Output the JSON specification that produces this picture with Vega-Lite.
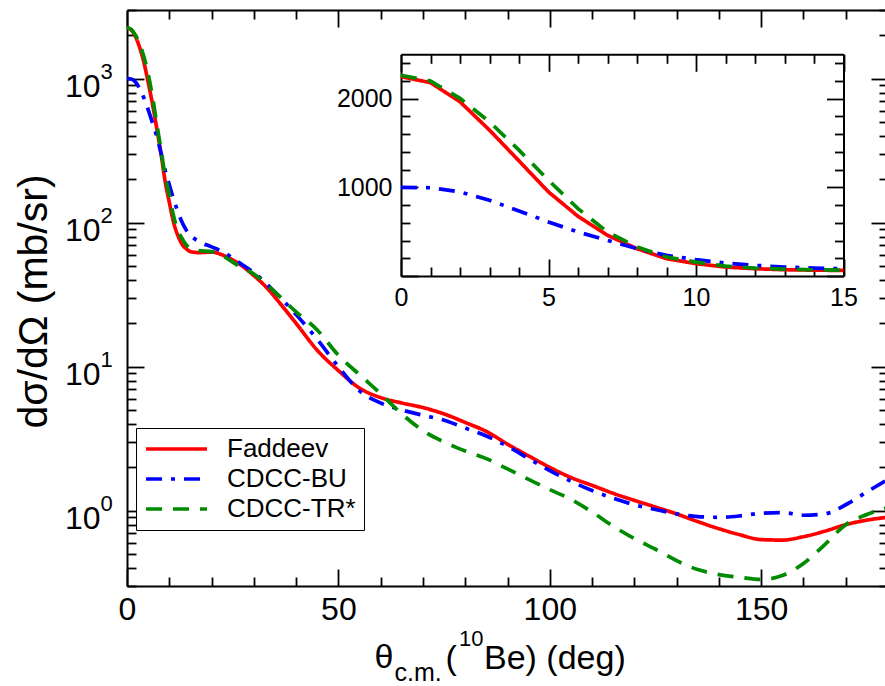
{
  "$schema": "https://vega.github.io/schema/vega-lite/v6.json",
  "width": 758,
  "height": 576,
  "autosize": "none",
  "padding": {"left": 127, "top": 10, "right": 0, "bottom": 100},
  "background": "white",
  "config": {
    "font": "Liberation Sans",
    "view": {"stroke": null},
    "axis": {
      "grid": false,
      "domainColor": "#000000",
      "domainWidth": 2,
      "tickColor": "#000000",
      "tickWidth": 1.8,
      "labelColor": "#000000",
      "titleColor": "#000000",
      "titleFontWeight": "normal",
      "labelFont": "Liberation Sans",
      "titleFont": "Liberation Sans",
      "labelOverlap": false,
      "labelFlush": false,
      "labelBound": false
    }
  },
  "data": {
    "values": [
      {"model": "Faddeev", "deg": 0, "v": 2248}, {"model": "Faddeev", "deg": 1, "v": 2180}, {"model": "Faddeev", "deg": 2, "v": 1965}, {"model": "Faddeev", "deg": 3, "v": 1645}, {"model": "Faddeev", "deg": 4, "v": 1298}, {"model": "Faddeev", "deg": 5, "v": 948}, {"model": "Faddeev", "deg": 6, "v": 673}, {"model": "Faddeev", "deg": 7, "v": 459}, {"model": "Faddeev", "deg": 8, "v": 308}, {"model": "Faddeev", "deg": 9, "v": 195}, {"model": "Faddeev", "deg": 10, "v": 139}, {"model": "Faddeev", "deg": 11, "v": 101}, {"model": "Faddeev", "deg": 12, "v": 82}, {"model": "Faddeev", "deg": 13, "v": 71}, {"model": "Faddeev", "deg": 14, "v": 66}, {"model": "Faddeev", "deg": 15, "v": 63},
      {"model": "Faddeev", "deg": 17, "v": 62}, {"model": "Faddeev", "deg": 20, "v": 62.5}, {"model": "Faddeev", "deg": 23, "v": 59}, {"model": "Faddeev", "deg": 26, "v": 53}, {"model": "Faddeev", "deg": 30, "v": 43}, {"model": "Faddeev", "deg": 33, "v": 35.5}, {"model": "Faddeev", "deg": 36, "v": 28}, {"model": "Faddeev", "deg": 40, "v": 20}, {"model": "Faddeev", "deg": 45, "v": 13}, {"model": "Faddeev", "deg": 50, "v": 9.4}, {"model": "Faddeev", "deg": 55, "v": 7.1}, {"model": "Faddeev", "deg": 60, "v": 6.1}, {"model": "Faddeev", "deg": 65, "v": 5.6}, {"model": "Faddeev", "deg": 70, "v": 5.2}, {"model": "Faddeev", "deg": 75, "v": 4.7}, {"model": "Faddeev", "deg": 80, "v": 4.1}, {"model": "Faddeev", "deg": 85, "v": 3.55}, {"model": "Faddeev", "deg": 90, "v": 2.9}, {"model": "Faddeev", "deg": 95, "v": 2.4}, {"model": "Faddeev", "deg": 100, "v": 2.0}, {"model": "Faddeev", "deg": 105, "v": 1.7}, {"model": "Faddeev", "deg": 110, "v": 1.5}, {"model": "Faddeev", "deg": 115, "v": 1.32}, {"model": "Faddeev", "deg": 120, "v": 1.18}, {"model": "Faddeev", "deg": 125, "v": 1.06}, {"model": "Faddeev", "deg": 130, "v": 0.95}, {"model": "Faddeev", "deg": 135, "v": 0.84}, {"model": "Faddeev", "deg": 140, "v": 0.75}, {"model": "Faddeev", "deg": 145, "v": 0.68}, {"model": "Faddeev", "deg": 150, "v": 0.63}, {"model": "Faddeev", "deg": 155, "v": 0.625}, {"model": "Faddeev", "deg": 160, "v": 0.66}, {"model": "Faddeev", "deg": 165, "v": 0.72}, {"model": "Faddeev", "deg": 170, "v": 0.8}, {"model": "Faddeev", "deg": 175, "v": 0.86}, {"model": "Faddeev", "deg": 180, "v": 0.9},

      {"model": "CDCC-BU", "deg": 0, "v": 1000}, {"model": "CDCC-BU", "deg": 1, "v": 995}, {"model": "CDCC-BU", "deg": 2, "v": 948}, {"model": "CDCC-BU", "deg": 3, "v": 854}, {"model": "CDCC-BU", "deg": 4, "v": 734}, {"model": "CDCC-BU", "deg": 5, "v": 609}, {"model": "CDCC-BU", "deg": 6, "v": 496}, {"model": "CDCC-BU", "deg": 7, "v": 402}, {"model": "CDCC-BU", "deg": 8, "v": 308}, {"model": "CDCC-BU", "deg": 9, "v": 233}, {"model": "CDCC-BU", "deg": 10, "v": 184}, {"model": "CDCC-BU", "deg": 11, "v": 146}, {"model": "CDCC-BU", "deg": 12, "v": 120}, {"model": "CDCC-BU", "deg": 13, "v": 101}, {"model": "CDCC-BU", "deg": 14, "v": 89}, {"model": "CDCC-BU", "deg": 15, "v": 82},
      {"model": "CDCC-BU", "deg": 17, "v": 74}, {"model": "CDCC-BU", "deg": 20, "v": 68}, {"model": "CDCC-BU", "deg": 23, "v": 62}, {"model": "CDCC-BU", "deg": 26, "v": 54}, {"model": "CDCC-BU", "deg": 30, "v": 45}, {"model": "CDCC-BU", "deg": 35, "v": 33}, {"model": "CDCC-BU", "deg": 40, "v": 23}, {"model": "CDCC-BU", "deg": 45, "v": 15.5}, {"model": "CDCC-BU", "deg": 50, "v": 10}, {"model": "CDCC-BU", "deg": 55, "v": 6.8}, {"model": "CDCC-BU", "deg": 60, "v": 5.6}, {"model": "CDCC-BU", "deg": 65, "v": 5.0}, {"model": "CDCC-BU", "deg": 70, "v": 4.6}, {"model": "CDCC-BU", "deg": 75, "v": 4.25}, {"model": "CDCC-BU", "deg": 80, "v": 3.75}, {"model": "CDCC-BU", "deg": 85, "v": 3.3}, {"model": "CDCC-BU", "deg": 90, "v": 2.8}, {"model": "CDCC-BU", "deg": 95, "v": 2.3}, {"model": "CDCC-BU", "deg": 100, "v": 1.9}, {"model": "CDCC-BU", "deg": 105, "v": 1.6}, {"model": "CDCC-BU", "deg": 110, "v": 1.38}, {"model": "CDCC-BU", "deg": 115, "v": 1.22}, {"model": "CDCC-BU", "deg": 120, "v": 1.1}, {"model": "CDCC-BU", "deg": 125, "v": 1.02}, {"model": "CDCC-BU", "deg": 130, "v": 0.95}, {"model": "CDCC-BU", "deg": 135, "v": 0.91}, {"model": "CDCC-BU", "deg": 140, "v": 0.9}, {"model": "CDCC-BU", "deg": 145, "v": 0.92}, {"model": "CDCC-BU", "deg": 150, "v": 0.96}, {"model": "CDCC-BU", "deg": 155, "v": 0.97}, {"model": "CDCC-BU", "deg": 160, "v": 0.93}, {"model": "CDCC-BU", "deg": 165, "v": 0.95}, {"model": "CDCC-BU", "deg": 170, "v": 1.1}, {"model": "CDCC-BU", "deg": 175, "v": 1.35}, {"model": "CDCC-BU", "deg": 180, "v": 1.65},

      {"model": "CDCC-TR*", "deg": 0, "v": 2264}, {"model": "CDCC-TR*", "deg": 1, "v": 2199}, {"model": "CDCC-TR*", "deg": 2, "v": 2003}, {"model": "CDCC-TR*", "deg": 3, "v": 1739}, {"model": "CDCC-TR*", "deg": 4, "v": 1419}, {"model": "CDCC-TR*", "deg": 5, "v": 1080}, {"model": "CDCC-TR*", "deg": 6, "v": 760}, {"model": "CDCC-TR*", "deg": 7, "v": 496}, {"model": "CDCC-TR*", "deg": 8, "v": 327}, {"model": "CDCC-TR*", "deg": 9, "v": 214}, {"model": "CDCC-TR*", "deg": 10, "v": 157}, {"model": "CDCC-TR*", "deg": 11, "v": 112}, {"model": "CDCC-TR*", "deg": 12, "v": 89}, {"model": "CDCC-TR*", "deg": 13, "v": 78}, {"model": "CDCC-TR*", "deg": 14, "v": 70}, {"model": "CDCC-TR*", "deg": 15, "v": 66},
      {"model": "CDCC-TR*", "deg": 17, "v": 64}, {"model": "CDCC-TR*", "deg": 20, "v": 63}, {"model": "CDCC-TR*", "deg": 23, "v": 58}, {"model": "CDCC-TR*", "deg": 26, "v": 51}, {"model": "CDCC-TR*", "deg": 30, "v": 44}, {"model": "CDCC-TR*", "deg": 35, "v": 33}, {"model": "CDCC-TR*", "deg": 40, "v": 24}, {"model": "CDCC-TR*", "deg": 45, "v": 18}, {"model": "CDCC-TR*", "deg": 50, "v": 12}, {"model": "CDCC-TR*", "deg": 55, "v": 8.8}, {"model": "CDCC-TR*", "deg": 60, "v": 6.5}, {"model": "CDCC-TR*", "deg": 65, "v": 4.7}, {"model": "CDCC-TR*", "deg": 70, "v": 3.6}, {"model": "CDCC-TR*", "deg": 75, "v": 3.0}, {"model": "CDCC-TR*", "deg": 80, "v": 2.6}, {"model": "CDCC-TR*", "deg": 85, "v": 2.3}, {"model": "CDCC-TR*", "deg": 90, "v": 1.95}, {"model": "CDCC-TR*", "deg": 95, "v": 1.65}, {"model": "CDCC-TR*", "deg": 100, "v": 1.4}, {"model": "CDCC-TR*", "deg": 105, "v": 1.2}, {"model": "CDCC-TR*", "deg": 110, "v": 0.98}, {"model": "CDCC-TR*", "deg": 115, "v": 0.78}, {"model": "CDCC-TR*", "deg": 120, "v": 0.64}, {"model": "CDCC-TR*", "deg": 125, "v": 0.54}, {"model": "CDCC-TR*", "deg": 130, "v": 0.45}, {"model": "CDCC-TR*", "deg": 135, "v": 0.39}, {"model": "CDCC-TR*", "deg": 140, "v": 0.36}, {"model": "CDCC-TR*", "deg": 145, "v": 0.345}, {"model": "CDCC-TR*", "deg": 150, "v": 0.333}, {"model": "CDCC-TR*", "deg": 155, "v": 0.355}, {"model": "CDCC-TR*", "deg": 160, "v": 0.43}, {"model": "CDCC-TR*", "deg": 165, "v": 0.58}, {"model": "CDCC-TR*", "deg": 170, "v": 0.8}, {"model": "CDCC-TR*", "deg": 175, "v": 0.94}, {"model": "CDCC-TR*", "deg": 180, "v": 1.05}
    ]
  },
  "layer": [
    {
      "mark": {"type": "line", "interpolate": "monotone", "strokeWidth": 3.7},
      "encoding": {
        "x": {
          "field": "deg", "type": "quantitative",
          "scale": {"domain": [0, 180], "range": [0, 761], "nice": false, "zero": false},
          "axis": {
            "orient": "bottom",
            "values": [0, 10, 20, 30, 40, 50, 60, 70, 80, 90, 100, 110, 120, 130, 140, 150, 160, 170, 180],
            "tickSize": {"condition": {"test": "datum.value % 50 === 0", "value": -17}, "value": -9},
            "labelExpr": "datum.value % 50 === 0 ? datum.label : ''",
            "labelFontSize": 32,
            "labelPadding": 25,
            "title": "θ",
            "titleFontSize": 34,
            "titleX": 247,
            "titleY": 81,
            "titleAlign": "left",
            "titleBaseline": "alphabetic"
          }
        },
        "y": {
          "field": "v", "type": "quantitative",
          "scale": {"type": "log", "domain": [0.3, 3000], "nice": false, "zero": false},
          "axis": {
            "orient": "left",
            "values": [0.3, 0.4, 0.5, 0.6, 0.7, 0.8, 0.9, 1, 2, 3, 4, 5, 6, 7, 8, 9, 10, 20, 30, 40, 50, 60, 70, 80, 90, 100, 200, 300, 400, 500, 600, 700, 800, 900, 1000, 2000, 3000],
            "tickSize": {"condition": {"test": "datum.value === 1 || datum.value === 10 || datum.value === 100 || datum.value === 1000", "value": -17}, "value": -9},
            "labelExpr": "(datum.value === 1 || datum.value === 10 || datum.value === 100 || datum.value === 1000) ? '10' : ''",
            "labelFontSize": 32,
            "labelPadding": 44,
            "labelOffset": 7.5,
            "labelBaseline": "middle",
            "title": "dσ/dΩ (mb/sr)",
            "titleFontSize": 41,
            "titleAngle": 270,
            "titleX": -93,
            "titleY": 291,
            "titleAlign": "center",
            "titleBaseline": "middle"
          }
        },
        "color": {
          "field": "model", "type": "nominal",
          "scale": {"domain": ["Faddeev", "CDCC-BU", "CDCC-TR*"], "range": ["#ff0000", "#0000ff", "#008b00"]},
          "legend": {
            "orient": "none", "legendX": 9, "legendY": 418, "title": null,
            "symbolType": "stroke", "symbolSize": 3721, "symbolStrokeWidth": 3.7, "clipHeight": 26,
            "labelFontSize": 26, "labelFont": "Liberation Sans", "labelColor": "#000000", "labelOffset": 18,
            "rowPadding": 4, "padding": 8, "strokeColor": "#000000", "fillColor": "#ffffff"
          }
        },
        "strokeDash": {
          "field": "model", "type": "nominal",
          "scale": {"domain": ["Faddeev", "CDCC-BU", "CDCC-TR*"], "range": [[1, 0], [16, 9, 4, 9], [16, 11]]},
          "legend": {
            "orient": "none", "legendX": 9, "legendY": 418, "title": null,
            "symbolType": "stroke", "symbolSize": 3721, "symbolStrokeWidth": 3.7, "clipHeight": 26,
            "labelFontSize": 26, "labelFont": "Liberation Sans", "labelColor": "#000000", "labelOffset": 18,
            "rowPadding": 4, "padding": 8, "strokeColor": "#000000", "fillColor": "#ffffff"
          }
        }
      }
    },
    {
      "mark": {"type": "line", "opacity": 0},
      "encoding": {
        "x": {
          "field": "deg", "type": "quantitative",
          "scale": {"domain": [0, 180], "range": [0, 761], "nice": false, "zero": false},
          "axis": {
            "orient": "top",
            "values": [0, 10, 20, 30, 40, 50, 60, 70, 80, 90, 100, 110, 120, 130, 140, 150, 160, 170, 180],
            "tickSize": {"condition": {"test": "datum.value % 50 === 0", "value": -17}, "value": -9},
            "labels": false,
            "title": "c.m.",
            "titleFontSize": 25,
            "titleX": 267,
            "titleY": 670,
            "titleAlign": "left",
            "titleBaseline": "alphabetic"
          }
        },
        "y": {
          "field": "v", "type": "quantitative",
          "scale": {"type": "log", "domain": [0.3, 3000], "nice": false, "zero": false},
          "axis": {
            "orient": "right",
            "offset": 3,
            "values": [0.3, 0.4, 0.5, 0.6, 0.7, 0.8, 0.9, 1, 2, 3, 4, 5, 6, 7, 8, 9, 10, 20, 30, 40, 50, 60, 70, 80, 90, 100, 200, 300, 400, 500, 600, 700, 800, 900, 1000, 2000, 3000],
            "tickSize": {"condition": {"test": "datum.value === 1 || datum.value === 10 || datum.value === 100 || datum.value === 1000", "value": -17}, "value": -9},
            "labels": false,
            "title": "(",
            "titleFontSize": 34,
            "titleAngle": 0,
            "titleX": -443,
            "titleY": 658,
            "titleAlign": "left",
            "titleBaseline": "alphabetic"
          }
        }
      }
    },
    {
      "mark": {"type": "line", "opacity": 0},
      "encoding": {
        "x": {
          "field": "deg", "type": "quantitative",
          "scale": {"domain": [0, 180], "range": [0, 761], "nice": false, "zero": false},
          "axis": {
            "orient": "bottom",
            "ticks": false,
            "labels": false,
            "domain": false,
            "title": "Be) (deg)",
            "titleFontSize": 34,
            "titleX": 356.5,
            "titleY": 82,
            "titleAlign": "left",
            "titleBaseline": "alphabetic"
          }
        },
        "y": {
          "field": "v", "type": "quantitative",
          "scale": {"type": "log", "domain": [0.3, 3000], "nice": false, "zero": false},
          "axis": {
            "orient": "left",
            "values": [1, 10, 100, 1000],
            "ticks": false,
            "domain": false,
            "labelExpr": "datum.value === 1 ? '0' : datum.value === 10 ? '1' : datum.value === 100 ? '2' : '3'",
            "labelFontSize": 22,
            "labelAlign": "left",
            "labelPadding": 27,
            "labelOffset": -7.5,
            "labelBaseline": "middle",
            "title": "10",
            "titleFontSize": 22,
            "titleAngle": 0,
            "titleX": 331.5,
            "titleY": 635.5,
            "titleAlign": "left",
            "titleBaseline": "alphabetic"
          }
        }
      }
    },
    {
      "transform": [{"filter": "datum.deg <= 15"}],
      "mark": {"type": "line", "interpolate": "linear", "strokeWidth": 3.7},
      "encoding": {
        "x": {
          "field": "deg", "type": "quantitative",
          "scale": {"domain": [0, 15], "range": [274, 716.5], "nice": false, "zero": false},
          "axis": {
            "orient": "bottom",
            "offset": -310,
            "values": [0, 1, 2, 3, 4, 5, 6, 7, 8, 9, 10, 11, 12, 13, 14, 15],
            "tickSize": {"condition": {"test": "datum.value % 5 === 0", "value": -17}, "value": -9},
            "labelExpr": "datum.value % 5 === 0 ? datum.label : ''",
            "labelFontSize": 25,
            "labelPadding": 26,
            "title": null
          }
        },
        "y": {
          "field": "v", "type": "quantitative",
          "scale": {"domain": [0, 2500], "range": [266, 44.3], "nice": false, "zero": false},
          "axis": {
            "orient": "left",
            "offset": -274,
            "values": [0, 200, 400, 600, 800, 1000, 1200, 1400, 1600, 1800, 2000, 2200, 2400],
            "tickSize": {"condition": {"test": "datum.value % 1000 === 0", "value": -17}, "value": -9},
            "labelExpr": "(datum.value === 1000 || datum.value === 2000) ? format(datum.value, 'd') : ''",
            "labelFontSize": 25,
            "labelPadding": 26,
            "title": null
          }
        },
        "color": {"field": "model", "type": "nominal", "scale": {"domain": ["Faddeev", "CDCC-BU", "CDCC-TR*"], "range": ["#ff0000", "#0000ff", "#008b00"]}},
        "strokeDash": {"field": "model", "type": "nominal", "scale": {"domain": ["Faddeev", "CDCC-BU", "CDCC-TR*"], "range": [[1, 0], [16, 9, 4, 9], [16, 11]]}}
      }
    },
    {
      "transform": [{"filter": "datum.deg <= 15"}],
      "mark": {"type": "line", "opacity": 0},
      "encoding": {
        "x": {
          "field": "deg", "type": "quantitative",
          "scale": {"domain": [0, 15], "range": [274, 716.5], "nice": false, "zero": false},
          "axis": {
            "orient": "top",
            "offset": -44.3,
            "values": [0, 1, 2, 3, 4, 5, 6, 7, 8, 9, 10, 11, 12, 13, 14, 15],
            "tickSize": {"condition": {"test": "datum.value % 5 === 0", "value": -17}, "value": -9},
            "labels": false,
            "title": null
          }
        },
        "y": {
          "field": "v", "type": "quantitative",
          "scale": {"domain": [0, 2500], "range": [266, 44.3], "nice": false, "zero": false},
          "axis": {
            "orient": "right",
            "offset": -41.5,
            "values": [0, 200, 400, 600, 800, 1000, 1200, 1400, 1600, 1800, 2000, 2200, 2400],
            "tickSize": {"condition": {"test": "datum.value % 1000 === 0", "value": -17}, "value": -9},
            "labels": false,
            "title": null
          }
        }
      }
    }
  ],
  "resolve": {
    "scale": {"x": "independent", "y": "independent"},
    "axis": {"x": "independent", "y": "independent"}
  }
}
